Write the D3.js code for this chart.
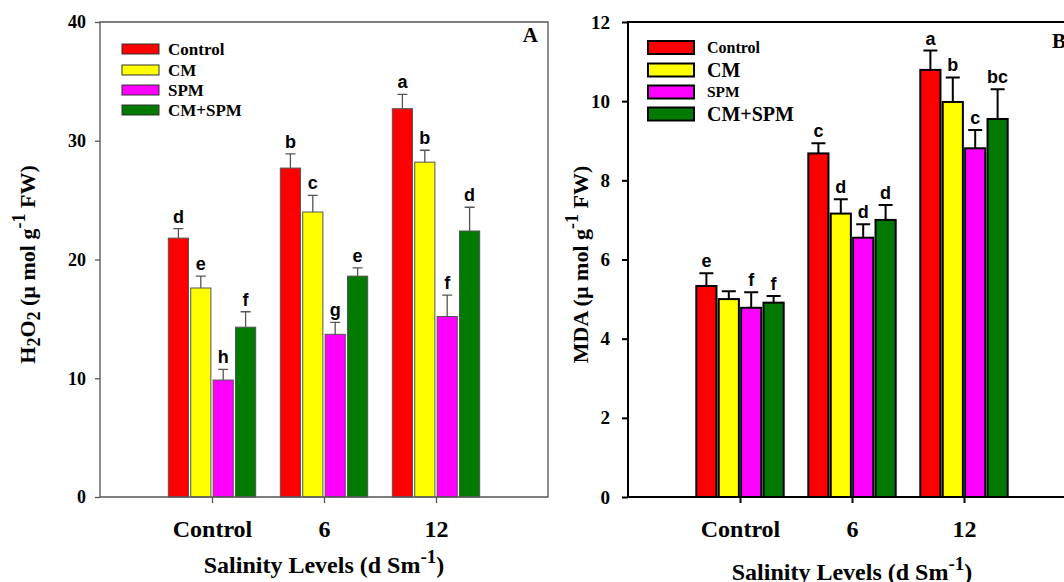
<!DOCTYPE html>
<html>
<head>
<meta charset="utf-8">
<script src="https://cdn.jsdelivr.net/npm/d3@7"></script>
<style>
  body { margin: 0; background: #fff; }
  text { font-family: "Liberation Serif", "Times New Roman", serif; font-weight: bold; }
  .sig { font-family: "Liberation Sans", Arial, sans-serif; font-weight: bold; }
</style>
</head>
<body>
<div class="chart"></div>
<script>
// salinity levels and treatments
var categories = [`Control`, `6`, `12`];
var treatments = [`Control`, `CM`, `SPM`, `CM+SPM`];
var colors = [`#ff0000`, `#ffff00`, `#ff00ff`, `#007a00`];

// panel A: H2O2, one array per treatment (Control, 6, 12)
var h2o2Control = [21.8, 27.7, 32.7];
var h2o2CM      = [17.6, 24.0, 28.2];
var h2o2SPM     = [9.85, 13.7, 15.2];
var h2o2CMSPM   = [14.3, 18.6, 22.4];
var h2o2ErrControl = [0.8, 1.2, 1.2];
var h2o2ErrCM      = [1.0, 1.4, 1.0];
var h2o2ErrSPM     = [0.9, 1.0, 1.8];
var h2o2ErrCMSPM   = [1.3, 0.7, 2.0];
var h2o2Letters = [[`d`,`b`,`a`], [`e`,`c`,`b`], [`h`,`g`,`f`], [`f`,`e`,`d`]];
var h2o2Ticks = [0, 10, 20, 30, 40];

// panel B: MDA
var mdaControl = [5.33, 8.68, 10.79];
var mdaCM      = [5.0, 7.16, 9.98];
var mdaSPM     = [4.78, 6.55, 8.81];
var mdaCMSPM   = [4.91, 7.0, 9.55];
var mdaErrControl = [0.32, 0.26, 0.49];
var mdaErrCM      = [0.2, 0.36, 0.62];
var mdaErrSPM     = [0.39, 0.34, 0.46];
var mdaErrCMSPM   = [0.17, 0.38, 0.75];
var mdaLetters = [[`e`,`c`,`a`], [``,`d`,`b`], [`f`,`d`,`c`], [`f`,`d`,`bc`]];
var mdaTicks = [0, 2, 4, 6, 8, 10, 12];

var svg = d3.select(`.chart`)
    .append(`svg`)
    .attr(`width`, 1064)
    .attr(`height`, 582);

function panel(opt) {
    var g = svg.append(`g`);
    var x = d3.scaleLinear().domain([0, 4]).range([opt.left, opt.right]);
    var y = d3.scaleLinear().domain([0, opt.max]).range([opt.bottom, opt.top]);
    var bw = x(0.18) - x(0);

    var rows = [];
    opt.values.forEach((vals, t) => {
        vals.forEach((v, c) => {
            rows.push({t: t, c: c, v: v, e: opt.errs[t][c], l: opt.letters[t][c]});
        });
    });
    var cx = d => x(d.c + 1 + (d.t - 1.5) * 0.2);

    // bars
    g.selectAll(`.bar`)
        .data(rows)
        .enter()
        .append(`rect`)
        .attr(`x`, d => cx(d) - bw / 2)
        .attr(`y`, d => y(d.v))
        .attr(`width`, bw)
        .attr(`height`, d => y(0) - y(d.v))
        .style(`fill`, d => colors[d.t])
        .style(`stroke`, opt.stroke)
        .style(`stroke-width`, opt.barStroke);

    // error bars (upper only)
    g.selectAll(`.err`)
        .data(rows)
        .enter()
        .append(`path`)
        .attr(`d`, d => `M${cx(d)},${y(d.v)}V${y(d.v + d.e)}M${cx(d) - opt.cap},${y(d.v + d.e)}H${cx(d) + opt.cap}`)
        .style(`stroke`, opt.stroke)
        .style(`stroke-width`, opt.errStroke)
        .style(`fill`, `none`);

    g.selectAll(`.sig`)
        .data(rows)
        .enter()
        .append(`text`)
        .attr(`class`, `sig`)
        .attr(`x`, d => cx(d))
        .attr(`y`, d => y(d.v + d.e) - 6)
        .attr(`text-anchor`, `middle`)
        .style(`font-size`, `18px`)
        .text(d => d.l);

    // frame
    var frame = opt.frame;
    g.append(`path`)
        .attr(`d`, frame ? `M${opt.left},${opt.bottom}V${opt.top}H${opt.right}V${opt.bottom}Z`
                         : `M${opt.left},${opt.bottom}V${opt.top}H${opt.right}M${opt.left},${opt.bottom}H${opt.right}`)
        .style(`fill`, `none`)
        .style(`stroke`, opt.stroke)
        .style(`stroke-width`, opt.axisStroke);

    var yAxis = d3.axisLeft(y).tickValues(opt.ticks).tickSize(opt.tickLen).tickPadding(opt.tickPad);
    var ya = g.append(`g`).attr(`transform`, `translate(${opt.left},0)`).call(yAxis);
    ya.select(`.domain`).remove();
    ya.selectAll(`line`).style(`stroke`, opt.stroke).style(`stroke-width`, opt.axisStroke);
    ya.selectAll(`text`)
        .style(`font-family`, `"Liberation Serif", serif`)
        .style(`font-weight`, `bold`)
        .style(`font-size`, opt.tickFont)
        .style(`fill`, `#000`);

    var xAxis = d3.axisBottom(x).tickValues([1, 2, 3]).tickSize(6).tickFormat(d => categories[d - 1]).tickPadding(16);
    var xa = g.append(`g`).attr(`transform`, `translate(0,${opt.bottom})`).call(xAxis);
    xa.select(`.domain`).remove();
    xa.selectAll(`line`).style(`stroke`, opt.stroke).style(`stroke-width`, opt.axisStroke);
    xa.selectAll(`text`)
        .attr(`dy`, null)
        .attr(`y`, 40)
        .style(`font-family`, `"Liberation Serif", serif`)
        .style(`font-weight`, `bold`)
        .style(`font-size`, `24px`)
        .style(`fill`, `#000`);

    // x title
    var xt = g.append(`text`)
        .attr(`x`, (opt.left + opt.right) / 2)
        .attr(`y`, opt.xTitleY)
        .attr(`text-anchor`, `middle`)
        .style(`font-size`, `24px`);
    xt.append(`tspan`).text(`Salinity Levels (d Sm`);
    xt.append(`tspan`).attr(`dy`, -10).style(`font-size`, `19px`).text(`-1`);
    xt.append(`tspan`).attr(`dy`, 10).text(`)`);

    // y title
    var yt = g.append(`text`)
        .attr(`transform`, `translate(${opt.yTitleX},${(opt.top + opt.bottom) / 2 + 5}) rotate(-90)`)
        .attr(`text-anchor`, `middle`)
        .style(`font-size`, `22px`);
    opt.yTitle.forEach(p => {
        yt.append(`tspan`).attr(`dy`, p[1]).style(`font-size`, p[2]).text(p[0]);
    });

    // panel letter
    g.append(`text`)
        .attr(`x`, opt.right - 10)
        .attr(`y`, opt.letterY)
        .attr(`text-anchor`, `end`)
        .style(`font-size`, `21px`)
        .text(opt.name);

    // legend
    var lg = g.selectAll(`.leg`)
        .data(treatments)
        .enter()
        .append(`g`)
        .attr(`transform`, (d, i) => `translate(${opt.legX},${opt.legY[i]})`);
    lg.append(`rect`)
        .attr(`y`, -opt.swH / 2)
        .attr(`width`, opt.swW)
        .attr(`height`, opt.swH)
        .style(`fill`, (d, i) => colors[i])
        .style(`stroke`, opt.legStroke)
        .style(`stroke-width`, opt.barStroke);
    lg.append(`text`)
        .attr(`x`, opt.legText)
        .attr(`dy`, `0.35em`)
        .style(`font-size`, (d, i) => opt.legFont[i])
        .text(d => d);
}

panel({
    name: `A`, left: 100, right: 548, top: 22, bottom: 497, max: 40,
    values: [h2o2Control, h2o2CM, h2o2SPM, h2o2CMSPM],
    errs: [h2o2ErrControl, h2o2ErrCM, h2o2ErrSPM, h2o2ErrCMSPM],
    letters: h2o2Letters, ticks: h2o2Ticks,
    stroke: `#555`, legStroke: `#333`, barStroke: 1, errStroke: 1.3, axisStroke: 1.3, cap: 5,
    frame: true, tickLen: 5, tickPad: 9, tickFont: `18px`,
    xTitleY: 573, yTitleX: 35, letterY: 42,
    yTitle: [[`H`, 0, `22px`], [`2`, 5, `18px`], [`O`, -5, `22px`], [`2`, 5, `18px`], [` (µ mol g`, -5, `22px`], [`-1`, -10, `18px`], [` FW)`, 10, `22px`]],
    legX: 122, legY: [49, 70, 90, 110], swW: 37, swH: 10, legText: 46,
    legFont: [`17px`, `17px`, `17px`, `17px`]
});

panel({
    name: `B`, left: 628, right: 1076, top: 22, bottom: 497, max: 12,
    values: [mdaControl, mdaCM, mdaSPM, mdaCMSPM],
    errs: [mdaErrControl, mdaErrCM, mdaErrSPM, mdaErrCMSPM],
    letters: mdaLetters, ticks: mdaTicks,
    stroke: `#000`, legStroke: `#000`, barStroke: 2, errStroke: 2, axisStroke: 2, cap: 7,
    frame: false, tickLen: 6, tickPad: 12, tickFont: `19px`,
    xTitleY: 580, yTitleX: 588, letterY: 48,
    yTitle: [[`MDA (µ mol g`, 0, `22px`], [`-1`, -10, `18px`], [` FW)`, 10, `22px`]],
    legX: 648, legY: [47.5, 70, 92, 114], swW: 46, swH: 13, legText: 59,
    legFont: [`16px`, `20px`, `15.5px`, `20px`]
});
</script>
</body>
</html>
